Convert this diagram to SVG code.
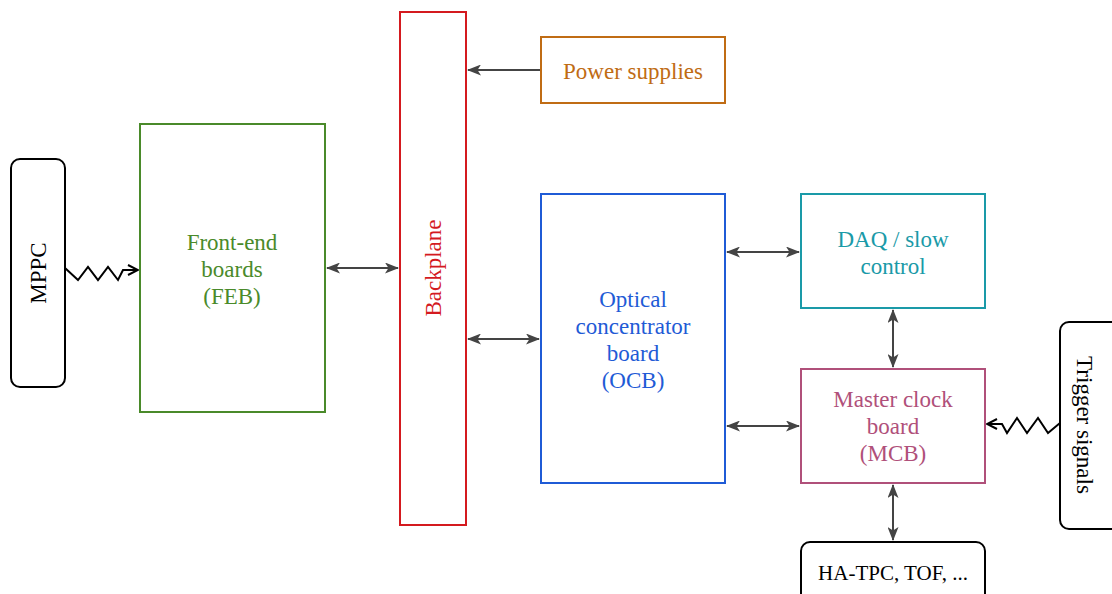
<svg xmlns="http://www.w3.org/2000/svg" width="1112" height="594" viewBox="0 0 1112 594">
<style>
text{font-family:"Liberation Serif","DejaVu Serif",serif;font-size:23px;text-anchor:middle}
.box{fill:#fff;stroke-width:2}
.term{fill:#fff;stroke:#000;stroke-width:2}
.conn{stroke:#444;stroke-width:2;fill:none}
.zig{stroke:#000;stroke-width:2;fill:none}
</style>
<defs>
<marker id="ah" viewBox="0 0 14 11" refX="13" refY="5.5" markerWidth="14" markerHeight="11" markerUnits="userSpaceOnUse" orient="auto-start-reverse">
<path d="M0,0 L14,5.5 L0,11 L3.5,5.5 Z" fill="#444"/>
</marker>
<marker id="oh" viewBox="0 0 12 12" refX="11" refY="6" markerWidth="12" markerHeight="12" markerUnits="userSpaceOnUse" orient="auto">
<path d="M1,1 L11,6 L1,11" fill="none" stroke="#000" stroke-width="2"/>
</marker>
</defs>
<g id="connectors">
<line class="conn" x1="540" y1="70" x2="468" y2="70" marker-end="url(#ah)"/>
<line class="conn" x1="327" y1="268" x2="398" y2="268" marker-start="url(#ah)" marker-end="url(#ah)"/>
<line class="conn" x1="468" y1="339" x2="539" y2="339" marker-start="url(#ah)" marker-end="url(#ah)"/>
<line class="conn" x1="727" y1="252" x2="799" y2="252" marker-start="url(#ah)" marker-end="url(#ah)"/>
<line class="conn" x1="727" y1="426" x2="799" y2="426" marker-start="url(#ah)" marker-end="url(#ah)"/>
<line class="conn" x1="893" y1="310" x2="893" y2="367" marker-start="url(#ah)" marker-end="url(#ah)"/>
<line class="conn" x1="893" y1="485" x2="893" y2="540" marker-start="url(#ah)" marker-end="url(#ah)"/>
<polyline class="zig" points="65,268 78,280 88,267 98,280 108,267 118,280 123,270 138,270" marker-end="url(#oh)"/>
<polyline class="zig" points="1060,423 1048,433 1038,418 1027,433 1017,418 1007,433 1002,424 987,424" marker-end="url(#oh)"/>
</g>
<g id="mppc">
<rect class="term" x="11" y="159" width="54" height="228" rx="9"/>
<text transform="translate(46,273) rotate(-90)" fill="#000">MPPC</text>
</g>
<g id="feb">
<rect class="box" x="140" y="124" width="185" height="288" stroke="#4a8a2a"/>
<text x="232" y="250" fill="#4a8a2a">Front-end</text>
<text x="232" y="277" fill="#4a8a2a">boards</text>
<text x="232" y="304" fill="#4a8a2a">(FEB)</text>
</g>
<g id="backplane">
<rect class="box" x="400" y="12" width="66" height="513" stroke="#d41a1f"/>
<text transform="translate(441,268) rotate(-90)" fill="#d41a1f">Backplane</text>
</g>
<g id="power">
<rect class="box" x="541" y="37" width="184" height="66" stroke="#c06c14"/>
<text x="633" y="79" fill="#c06c14">Power supplies</text>
</g>
<g id="ocb">
<rect class="box" x="541" y="194" width="184" height="289" stroke="#1f5bd6"/>
<text x="633" y="307" fill="#1f5bd6">Optical</text>
<text x="633" y="334" fill="#1f5bd6">concentrator</text>
<text x="633" y="361" fill="#1f5bd6">board</text>
<text x="633" y="388" fill="#1f5bd6">(OCB)</text>
</g>
<g id="daq">
<rect class="box" x="801" y="194" width="184" height="114" stroke="#1a9aa8"/>
<text x="893" y="247" fill="#1a9aa8">DAQ / slow</text>
<text x="893" y="274" fill="#1a9aa8">control</text>
</g>
<g id="mcb">
<rect class="box" x="801" y="369" width="184" height="114" stroke="#b0507a"/>
<text x="893" y="407" fill="#b0507a">Master clock</text>
<text x="893" y="434" fill="#b0507a">board</text>
<text x="893" y="461" fill="#b0507a">(MCB)</text>
</g>
<g id="hatpc">
<rect class="term" x="801" y="542" width="184" height="60" rx="9"/>
<text x="893" y="580" fill="#000" style="font-size:21px">HA-TPC, TOF, ...</text>
</g>
<g id="trigger">
<rect class="term" x="1060" y="322" width="62" height="207" rx="9"/>
<text transform="translate(1077,425) rotate(90)" fill="#000">Trigger signals</text>
</g>
</svg>
